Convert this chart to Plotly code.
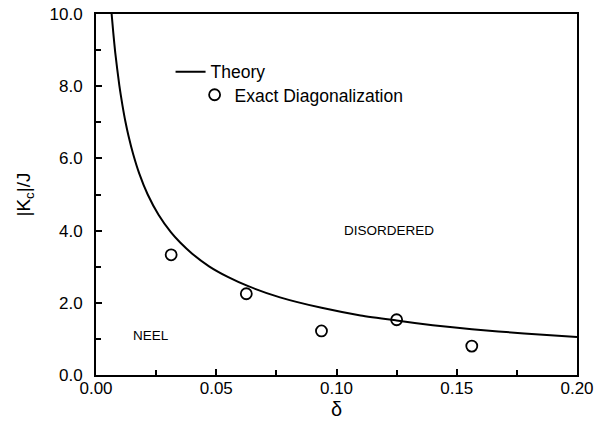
import plotly.graph_objects as go

# Theory curve
theory_delta = [0.0065, 0.0072, 0.0080, 0.0097, 0.0110, 0.0122, 0.0135, 0.0155, 0.0180,
                0.0215, 0.0260, 0.0312, 0.0350, 0.0400, 0.0470, 0.0550, 0.0633, 0.0765,
                0.0938, 0.1100, 0.1250, 0.1400, 0.1563, 0.1780, 0.2000]
theory_k = [10.0, 9.47, 8.93, 8.02, 7.47, 7.03, 6.63, 6.11, 5.58,
            5.00, 4.44, 3.95, 3.67, 3.36, 3.01, 2.71, 2.46, 2.15,
            1.86, 1.65, 1.51, 1.38, 1.27, 1.15, 1.05]

# Exact diagonalization points
ed_delta = [0.03125, 0.0625, 0.09375, 0.125, 0.15625]
ed_k = [3.33, 2.25, 1.22, 1.53, 0.80]

x_ticks = [0.0, 0.05, 0.10, 0.15, 0.20]
x_labels = ["0.00", "0.05", "0.10", "0.15", "0.20"]
y_ticks = [0, 2, 4, 6, 8, 10]
y_labels = ["0.0", "2.0", "4.0", "6.0", "8.0", "10.0"]

FONT = "Liberation Sans, Arial, sans-serif"

fig = go.Figure()
fig.add_trace(go.Scatter(
    x=theory_delta, y=theory_k, mode="lines", name="Theory",
    line=dict(color="black", width=2, shape="spline", smoothing=0.6),
    legend="legend",
))
fig.add_trace(go.Scatter(
    x=ed_delta, y=ed_k, mode="markers", name="Exact Diagonalization",
    marker=dict(symbol="circle-open", size=11, color="black", line=dict(width=1.8)),
    legend="legend2",
))

axis_common = dict(
    showline=True, linecolor="black", linewidth=2, mirror=True,
    ticks="inside", ticklen=6, tickwidth=1.5, tickcolor="black",
    showgrid=False, zeroline=False, automargin=False,
    ticklabeloverflow="allow",
    tickfont=dict(family=FONT, size=17, color="black"),
)

fig.update_xaxes(
    range=[0, 0.2], tickvals=x_ticks, ticktext=x_labels,
    minor=dict(dtick=0.025, ticks="inside", ticklen=5, tickcolor="black", tickwidth=1.5),
    title=dict(text="δ", font=dict(family=FONT, size=20, color="black"), standoff=4),
    ticklabelstandoff=-3,
    **axis_common,
)
fig.update_yaxes(
    range=[0, 10], tickvals=y_ticks, ticktext=y_labels,
    minor=dict(dtick=1, ticks="inside", ticklen=5, tickcolor="black", tickwidth=1.5),
    title=dict(text="|K<sub>c</sub>|/J", font=dict(family=FONT, size=19, color="black"), standoff=14),
    ticklabelstandoff=8,
    **axis_common,
)

fig.add_annotation(x=0.023, y=1.1, text="NEEL", showarrow=False,
                   font=dict(family=FONT, size=13.5, color="black"))
fig.add_annotation(x=0.122, y=4.0, text="DISORDERED", showarrow=False,
                   font=dict(family=FONT, size=13.5, color="black"))

# page body has an 8px default margin, so the figure is sized to fit inside it
fig.update_layout(
    width=600, height=414,
    margin=dict(l=88, r=31, t=6, b=47),
    plot_bgcolor="white", paper_bgcolor="white",
    showlegend=True,
    legend=dict(x=0.155, y=0.84, xanchor="left", yanchor="middle",
                bgcolor="rgba(0,0,0,0)", itemwidth=30,
                font=dict(family=FONT, size=17.5, color="black")),
    legend2=dict(x=0.205, y=0.776, xanchor="left", yanchor="middle",
                 bgcolor="rgba(0,0,0,0)", itemwidth=30,
                 font=dict(family=FONT, size=17.5, color="black")),
)

fig.write_html("out.html")
